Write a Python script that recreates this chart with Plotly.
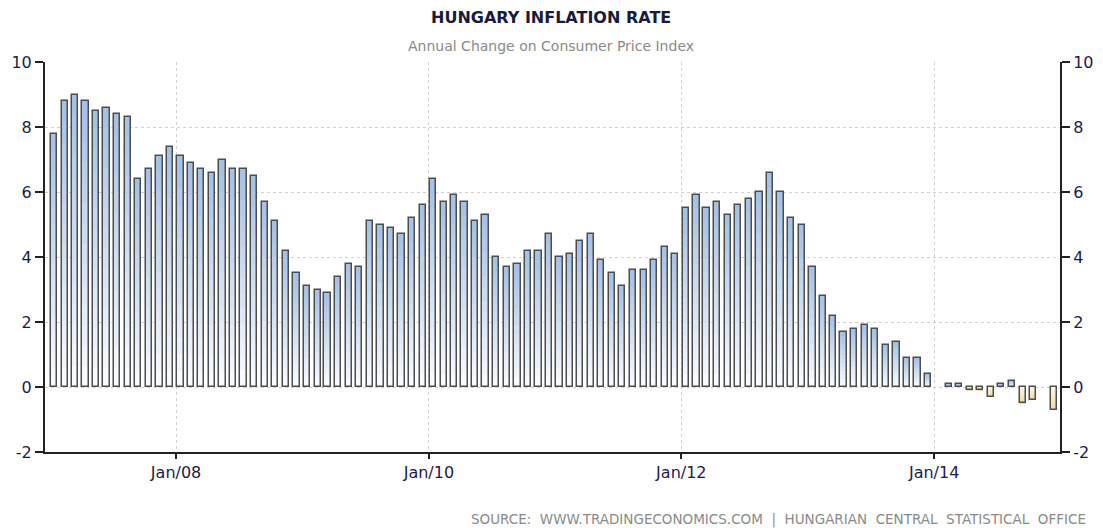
import plotly.graph_objects as go
import pandas as pd

# ---- data (annual CPI change, %, monthly Jan 2007 - Dec 2014) ----
values_2007 = [7.8, 8.8, 9.0, 8.8, 8.5, 8.6, 8.4, 8.3, 6.4, 6.7, 7.1, 7.4]
values_2008 = [7.1, 6.9, 6.7, 6.6, 7.0, 6.7, 6.7, 6.5, 5.7, 5.1, 4.2, 3.5]
values_2009 = [3.1, 3.0, 2.9, 3.4, 3.8, 3.7, 5.1, 5.0, 4.9, 4.7, 5.2, 5.6]
values_2010 = [6.4, 5.7, 5.9, 5.7, 5.1, 5.3, 4.0, 3.7, 3.8, 4.2, 4.2, 4.7]
values_2011 = [4.0, 4.1, 4.5, 4.7, 3.9, 3.5, 3.1, 3.6, 3.6, 3.9, 4.3, 4.1]
values_2012 = [5.5, 5.9, 5.5, 5.7, 5.3, 5.6, 5.8, 6.0, 6.6, 6.0, 5.2, 5.0]
values_2013 = [3.7, 2.8, 2.2, 1.7, 1.8, 1.9, 1.8, 1.3, 1.4, 0.9, 0.9, 0.4]
values_2014 = [None, 0.1, 0.1, -0.1, -0.1, -0.3, 0.1, 0.2, -0.5, -0.4, None, -0.7]

tick_dates = ["2008-01-01", "2010-01-01", "2012-01-01", "2014-01-01"]
tick_labels = ["Jan/08", "Jan/10", "Jan/12", "Jan/14"]
y_ticks = [-2, 0, 2, 4, 6, 8, 10]
y_tick_labels = ["-2", "0", "2", "4", "6", "8", "10"]

values = (values_2007 + values_2008 + values_2009 + values_2010 +
          values_2011 + values_2012 + values_2013 + values_2014)
months = pd.date_range("2007-01-01", periods=len(values), freq="MS") + pd.Timedelta(days=13)
dates = [d.strftime("%Y-%m-%d") for d in months]

BAR_W = 18 * 24 * 3600 * 1000  # ms


def lerp(c1, c2, t):
    return "rgb(%d,%d,%d)" % tuple(round(a + (b - a) * t) for a, b in zip(c1, c2))


POS_BASE = (250, 252, 255)
POS_TIP = (163, 192, 229)
NEG_BASE = (252, 248, 236)
NEG_TIP = (240, 218, 165)

fig = go.Figure()
N = 14
for k in range(N):
    t = (k + 0.5) / N
    ys, bases, cols = [], [], []
    for v in values:
        if v is None:
            ys.append(None); bases.append(0); cols.append("white")
            continue
        ys.append(v / N)
        bases.append(v * k / N)
        cols.append(lerp(POS_BASE, POS_TIP, t) if v >= 0 else lerp(NEG_BASE, NEG_TIP, t))
    fig.add_trace(go.Bar(x=dates, y=ys, base=bases, width=BAR_W,
                         marker=dict(color=cols, line=dict(width=0)),
                         hoverinfo="skip", showlegend=False))

fig.add_trace(go.Bar(x=dates, y=values, width=BAR_W,
                     marker=dict(color="rgba(0,0,0,0)", line=dict(color="#4d4d4d", width=1.5)),
                     showlegend=False, name="Inflation"))
fig.add_trace(go.Scatter(x=[dates[0]], y=[None], yaxis="y2", showlegend=False,
                         hoverinfo="skip"))

tick_font = dict(family="DejaVu Sans", size=16, color="#1c1c4a")
yax = dict(range=[-2, 10], tickvals=y_ticks, ticktext=y_tick_labels,
           ticks="outside", ticklen=8,
           tickwidth=1.5, tickcolor="#222", showline=True, linecolor="#222",
           linewidth=2, showgrid=True, gridcolor="#d0d0d0", griddash="dot",
           gridwidth=1, zeroline=False, tickfont=tick_font, fixedrange=True,
           automargin=False)

# page body has an 8px margin, so the figure is 8px smaller on each axis
fig.update_layout(
    width=1095, height=520,
    margin=dict(l=37, r=43, t=54, b=76),
    plot_bgcolor="white", paper_bgcolor="white",
    barmode="overlay", bargap=0,
    xaxis=dict(type="date", range=["2006-12-18", "2014-12-31"],
               tickvals=tick_dates, ticktext=tick_labels,
               ticks="outside", ticklen=5, tickwidth=1.5, tickcolor="#222",
               showline=True, linecolor="#222", linewidth=2,
               showgrid=True, gridcolor="#d0d0d0", griddash="dot",
               zeroline=False, tickfont=tick_font, automargin=False),
    yaxis=yax,
    yaxis2=dict(yax, overlaying="y", side="right", showgrid=False),
    annotations=[
        dict(text="<b>HUNGARY INFLATION RATE</b>", xref="paper", yref="paper",
             x=0.4985, y=1.113, xanchor="center", yanchor="middle", showarrow=False,
             font=dict(family="DejaVu Sans", size=16, color="#1a1a3a")),
        dict(text="Annual Change on Consumer Price Index", xref="paper", yref="paper",
             x=0.4985, y=1.041, xanchor="center", yanchor="middle", showarrow=False,
             font=dict(family="DejaVu Sans", size=14, color="#8a8a8a")),
        dict(text="SOURCE:  WWW.TRADINGECONOMICS.COM  |  HUNGARIAN  CENTRAL  STATISTICAL  OFFICE",
             xref="paper", yref="paper", x=1.0276, y=-0.174, xanchor="right",
             yanchor="middle", showarrow=False,
             font=dict(family="DejaVu Sans", size=13.5, color="#8a8a8a")),
    ],
)

fig.write_html("out.html")
